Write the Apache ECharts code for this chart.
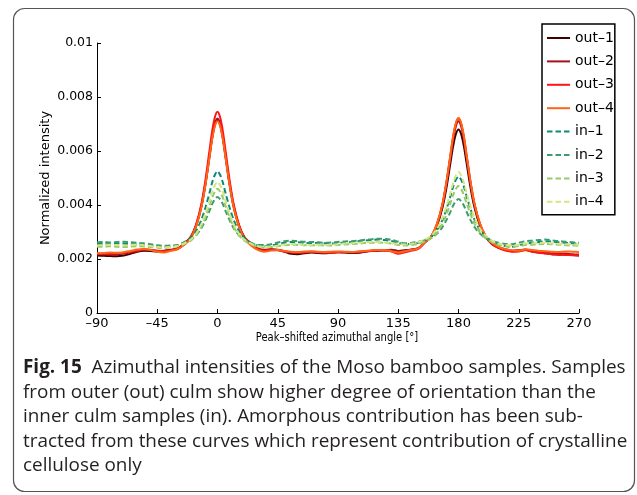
<!DOCTYPE html>
<html>
<head>
<meta charset="utf-8">
<script src="https://cdn.jsdelivr.net/npm/echarts@6/dist/echarts.min.js"></script>
<style>
  html, body { margin: 0; padding: 0; background: #fff; }
  #chart { width: 637px; height: 495px; }
</style>
</head>
<body>
<div id="chart"></div>
<script>
// Peak-shifted azimuthal angle (degrees); denser sampling around the two peaks
const angles = [-90,-85,-80,-75,-70,-65,-60,-55,-50,-45,-40,-35,-30,
  -25,-20,-16,-12,-9,-6,-4,-2,0,2,4,6,9,12,16,20,25,
  30,
  35,40,45,50,55,60,65,70,75,80,85,90,95,100,105,110,115,120,125,130,135,140,145,150,
  155,160,164,168,171,174,176,178,180,182,184,186,189,192,196,200,205,
  210,215,220,225,230,235,240,245,250,255,260,265,270];

// Outer culm samples
const out1 = [0.00213,0.00212,0.00211,0.00210,0.00213,0.00219,0.00227,0.00231,0.00230,0.00228,0.00230,0.00233,0.00237,
  0.00254,0.00279,0.00322,0.00395,0.00477,0.00579,0.00647,0.00696,0.00715,0.00696,0.00647,0.00579,0.00477,0.00395,0.00322,0.00279,0.00254,
  0.00238,
  0.00232,0.00235,0.00233,0.00227,0.00219,0.00218,0.00221,0.00224,0.00222,0.00221,0.00223,0.00225,0.00224,0.00222,0.00223,0.00227,0.00230,0.00231,0.00232,0.00233,0.00230,0.00232,0.00235,0.00240,
  0.00262,0.00284,0.00324,0.00390,0.00464,0.00557,0.00618,0.00662,0.00680,0.00662,0.00618,0.00557,0.00464,0.00390,0.00324,0.00284,0.00255,
  0.00242,0.00233,0.00229,0.00231,0.00233,0.00228,0.00224,0.00221,0.00218,0.00216,0.00217,0.00215,0.00213];
const out2 = [0.00218,0.00217,0.00216,0.00217,0.00220,0.00224,0.00229,0.00234,0.00233,0.00230,0.00231,0.00234,0.00239,
  0.00256,0.00281,0.00325,0.00398,0.00481,0.00583,0.00652,0.00700,0.00720,0.00700,0.00652,0.00583,0.00481,0.00398,0.00325,0.00281,0.00256,
  0.00240,
  0.00234,0.00236,0.00234,0.00229,0.00224,0.00222,0.00224,0.00226,0.00224,0.00223,0.00224,0.00226,0.00225,0.00224,0.00225,0.00228,0.00231,0.00233,0.00233,0.00234,0.00230,0.00231,0.00234,0.00239,
  0.00264,0.00287,0.00329,0.00400,0.00480,0.00578,0.00644,0.00691,0.00710,0.00691,0.00644,0.00578,0.00480,0.00400,0.00329,0.00287,0.00258,
  0.00244,0.00236,0.00231,0.00232,0.00235,0.00230,0.00226,0.00223,0.00221,0.00219,0.00220,0.00218,0.00217];
const out3 = [0.00220,0.00219,0.00220,0.00221,0.00223,0.00227,0.00231,0.00236,0.00234,0.00231,0.00229,0.00232,0.00238,
  0.00256,0.00282,0.00328,0.00405,0.00493,0.00601,0.00673,0.00724,0.00745,0.00724,0.00673,0.00601,0.00493,0.00405,0.00328,0.00282,0.00256,
  0.00237,
  0.00231,0.00233,0.00232,0.00228,0.00225,0.00224,0.00225,0.00227,0.00226,0.00224,0.00223,0.00225,0.00226,0.00225,0.00227,0.00229,0.00230,0.00232,0.00231,0.00228,0.00219,0.00225,0.00231,0.00237,
  0.00262,0.00286,0.00330,0.00402,0.00484,0.00585,0.00653,0.00701,0.00720,0.00701,0.00653,0.00585,0.00484,0.00402,0.00330,0.00286,0.00256,
  0.00240,0.00231,0.00227,0.00228,0.00233,0.00227,0.00223,0.00220,0.00217,0.00216,0.00215,0.00214,0.00213];
const out4 = [0.00221,0.00222,0.00224,0.00223,0.00225,0.00230,0.00235,0.00237,0.00233,0.00227,0.00224,0.00230,0.00236,
  0.00252,0.00276,0.00320,0.00392,0.00474,0.00575,0.00643,0.00691,0.00710,0.00691,0.00643,0.00575,0.00474,0.00392,0.00320,0.00276,0.00250,
  0.00234,
  0.00227,0.00231,0.00233,0.00230,0.00227,0.00226,0.00228,0.00229,0.00227,0.00226,0.00227,0.00228,0.00227,0.00226,0.00228,0.00230,0.00232,0.00233,0.00233,0.00229,0.00224,0.00229,0.00234,0.00239,
  0.00264,0.00288,0.00332,0.00404,0.00486,0.00587,0.00655,0.00703,0.00722,0.00703,0.00655,0.00587,0.00486,0.00404,0.00332,0.00288,0.00260,
  0.00245,0.00236,0.00232,0.00231,0.00236,0.00233,0.00230,0.00229,0.00227,0.00226,0.00228,0.00227,0.00226];

// Inner culm samples
const in1 = [0.00255,0.00257,0.00256,0.00258,0.00257,0.00255,0.00254,0.00252,0.00249,0.00246,0.00244,0.00247,0.00250,
  0.00262,0.00279,0.00304,0.00346,0.00391,0.00444,0.00483,0.00511,0.00525,0.00511,0.00483,0.00444,0.00391,0.00346,0.00304,0.00279,0.00260,
  0.00250,
  0.00247,0.00249,0.00255,0.00260,0.00263,0.00262,0.00260,0.00259,0.00260,0.00258,0.00257,0.00259,0.00261,0.00263,0.00266,0.00268,0.00270,0.00272,0.00270,0.00267,0.00260,0.00255,0.00256,0.00260,
  0.00270,0.00285,0.00308,0.00345,0.00385,0.00433,0.00468,0.00493,0.00505,0.00493,0.00468,0.00433,0.00385,0.00345,0.00308,0.00285,0.00266,
  0.00255,0.00248,0.00245,0.00250,0.00257,0.00260,0.00263,0.00266,0.00264,0.00262,0.00260,0.00258,0.00256];
const in2 = [0.00262,0.00263,0.00261,0.00263,0.00264,0.00262,0.00260,0.00258,0.00255,0.00251,0.00249,0.00250,0.00252,
  0.00261,0.00272,0.00288,0.00315,0.00344,0.00378,0.00403,0.00421,0.00430,0.00421,0.00403,0.00378,0.00344,0.00315,0.00288,0.00272,0.00260,
  0.00252,
  0.00252,0.00255,0.00261,0.00266,0.00268,0.00266,0.00264,0.00263,0.00262,0.00260,0.00261,0.00263,0.00265,0.00266,0.00268,0.00271,0.00273,0.00275,0.00274,0.00271,0.00264,0.00258,0.00260,0.00264,
  0.00270,0.00279,0.00294,0.00318,0.00344,0.00375,0.00398,0.00414,0.00422,0.00414,0.00398,0.00375,0.00344,0.00318,0.00294,0.00279,0.00268,
  0.00260,0.00256,0.00255,0.00260,0.00266,0.00268,0.00270,0.00272,0.00269,0.00266,0.00264,0.00262,0.00260];
const in3 = [0.00245,0.00246,0.00247,0.00245,0.00244,0.00246,0.00247,0.00246,0.00244,0.00242,0.00241,0.00244,0.00247,
  0.00255,0.00268,0.00288,0.00320,0.00355,0.00397,0.00427,0.00449,0.00460,0.00449,0.00427,0.00397,0.00355,0.00320,0.00288,0.00268,0.00255,
  0.00245,
  0.00243,0.00244,0.00247,0.00251,0.00253,0.00252,0.00251,0.00250,0.00251,0.00250,0.00250,0.00252,0.00254,0.00255,0.00257,0.00259,0.00260,0.00261,0.00260,0.00257,0.00252,0.00250,0.00252,0.00256,
  0.00265,0.00278,0.00298,0.00330,0.00365,0.00407,0.00437,0.00459,0.00470,0.00459,0.00437,0.00407,0.00365,0.00330,0.00298,0.00278,0.00262,
  0.00252,0.00247,0.00245,0.00248,0.00252,0.00253,0.00255,0.00256,0.00255,0.00253,0.00251,0.00250,0.00249];
const in4 = [0.00250,0.00252,0.00253,0.00251,0.00250,0.00252,0.00253,0.00251,0.00248,0.00245,0.00243,0.00245,0.00248,
  0.00258,0.00272,0.00294,0.00330,0.00369,0.00415,0.00449,0.00473,0.00485,0.00473,0.00449,0.00415,0.00369,0.00330,0.00294,0.00272,0.00257,
  0.00247,
  0.00245,0.00246,0.00250,0.00254,0.00256,0.00255,0.00253,0.00252,0.00253,0.00252,0.00253,0.00255,0.00257,0.00258,0.00260,0.00262,0.00263,0.00263,0.00261,0.00258,0.00255,0.00254,0.00257,0.00262,
  0.00272,0.00288,0.00312,0.00352,0.00394,0.00445,0.00482,0.00509,0.00522,0.00509,0.00482,0.00445,0.00394,0.00352,0.00312,0.00288,0.00268,
  0.00257,0.00252,0.00250,0.00253,0.00257,0.00258,0.00259,0.00260,0.00258,0.00256,0.00255,0.00254,0.00253];

const seriesNames = ['out\u20131','out\u20132','out\u20133','out\u20134','in\u20131','in\u20132','in\u20133','in\u20134'];
const seriesValues = [out1, out2, out3, out4, in1, in2, in3, in4];
const xTicks = [-90, -45, 0, 45, 90, 135, 180, 225, 270];
const yTicks = [0, 0.002, 0.004, 0.006, 0.008, 0.01];

const xTitle = 'Peak\u2013shifted azimuthal angle [\u00b0]';
const yTitle = 'Normalized intensity';
const captionLines = [
  '{b|Fig. 15}  Azimuthal intensities of the Moso bamboo samples. Samples',
  'from outer (out) culm show higher degree of orientation than the',
  'inner culm samples (in). Amorphous contribution has been sub-',
  'tracted from these curves which represent contribution of crystalline',
  'cellulose only'
];

const colors = ['#3f0000', '#a3121a', '#ff1414', '#ff6418', '#0a8a78', '#3b9d6c', '#98c96c', '#d5e67c'];
const plotFont = 'DejaVu Sans';
const captionFont = '18.9px "Open Sans"';

const chart = echarts.init(document.getElementById('chart'), null, { renderer: 'canvas' });

const series = seriesValues.map((vals, k) => ({
  name: seriesNames[k],
  type: 'line',
  data: angles.map((a, i) => [a, vals[i]]),
  showSymbol: false,
  symbol: 'none',
  smooth: 0.3,
  z: 2 + k,
  lineStyle: {
    color: colors[k],
    width: 2,
    type: k < 4 ? 'solid' : [5.5, 3]
  },
  itemStyle: { color: colors[k] },
  emphasis: { disabled: true }
}));

const captionGraphics = captionLines.map((line, i) => ({
  type: 'text',
  x: 23,
  y: 368 + i * 24.5,
  style: {
    text: line,
    x: 0, y: 0,
    textVerticalAlign: 'middle',
    font: captionFont,
    fill: '#231f20',
    rich: { b: { font: 'bold ' + captionFont, fill: '#231f20' } }
  }
}));

chart.setOption({
  animation: false,
  backgroundColor: '#fff',
  grid: { left: 97, top: 43, width: 482, height: 270, containLabel: false },
  xAxis: {
    type: 'value',
    min: xTicks[0],
    max: xTicks[xTicks.length - 1],
    interval: 45,
    axisLine: { show: true, onZero: false, lineStyle: { color: '#000', width: 1 } },
    axisTick: { show: true, inside: true, length: 4, lineStyle: { color: '#000' } },
    splitLine: { show: false },
    axisLabel: {
      margin: 4,
      color: '#000',
      fontFamily: plotFont,
      fontSize: 13,
      formatter: v => (v < 0 ? '\u2013' + Math.abs(v) : String(v))
    }
  },
  yAxis: {
    type: 'value',
    min: yTicks[0],
    max: yTicks[yTicks.length - 1],
    interval: 0.002,
    axisLine: { show: true, onZero: false, lineStyle: { color: '#000', width: 1 } },
    axisTick: { show: true, inside: true, length: 4, lineStyle: { color: '#000' } },
    splitLine: { show: false },
    axisLabel: {
      margin: 4,
      color: '#000',
      fontFamily: plotFont,
      fontSize: 12.5,
      formatter: v => String(+v.toFixed(4))
    }
  },
  legend: {
    orient: 'vertical',
    left: 542,
    top: 24,
    padding: [7, 1, 6, 4],
    itemWidth: 23,
    itemHeight: 14,
    itemGap: 9.4,
    backgroundColor: '#fff',
    borderColor: '#000',
    borderWidth: 1.5,
    borderRadius: 0,
    itemStyle: { opacity: 0 },
    textStyle: { color: '#000', fontFamily: plotFont, fontSize: 14 },
    data: seriesNames,
    selectedMode: false
  },
  graphic: [
    {
      type: 'rect',
      shape: { x: 13.5, y: 8.5, width: 621, height: 483, r: 11 },
      style: { fill: 'none', stroke: '#555', lineWidth: 1.2 },
      silent: true,
      z: -10
    },
    {
      type: 'text',
      x: 337,
      y: 338,
      scaleX: 0.77,
      style: {
        text: xTitle,
        x: 0, y: 0,
        textAlign: 'center',
        textVerticalAlign: 'middle',
        font: '13px "DejaVu Sans"',
        fill: '#000'
      }
    },
    {
      type: 'text',
      x: 45.5,
      y: 178,
      rotation: Math.PI / 2,
      style: {
        text: yTitle,
        x: 0, y: 0,
        textAlign: 'center',
        textVerticalAlign: 'middle',
        font: '13px "DejaVu Sans"',
        fill: '#000'
      }
    }
  ].concat(captionGraphics),
  series: series
});
</script>
</body>
</html>
